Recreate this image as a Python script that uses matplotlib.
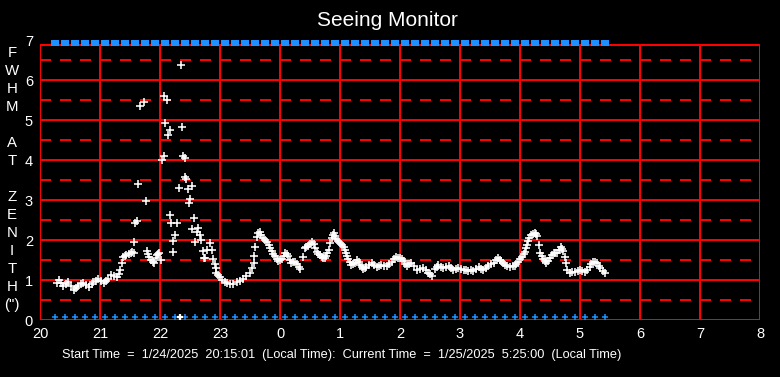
import numpy as np
import matplotlib
matplotlib.use("Agg")
import matplotlib.pyplot as plt

plt.rcParams['font.family'] = ['Liberation Sans', 'DejaVu Sans']
plt.rcParams['lines.scale_dashes'] = False

# --- data (hours since midnight of 1/24, FWHM in arcsec) ---
t_fwhm = [
    20.28, 20.31, 20.35, 20.39, 20.43, 20.47, 20.51, 20.56, 20.60, 20.64,
    20.68, 20.72, 20.77, 20.82, 20.86, 20.89, 20.93, 20.97, 21.02, 21.06,
    21.10, 21.14, 21.19, 21.23, 21.28, 21.31, 21.33, 21.36, 21.39, 21.42,
    21.44, 21.48, 21.51, 21.54, 21.56, 21.57, 21.59, 21.62, 21.64, 21.66,
    21.74, 21.76, 21.78, 21.80, 21.82, 21.85, 21.88, 21.90, 21.93, 21.95,
    21.97, 21.99, 22.01, 22.04, 22.06, 22.07, 22.08, 22.12, 22.14, 22.16,
    22.17, 22.19, 22.21, 22.22, 22.25, 22.29, 22.31, 22.35, 22.37, 22.39,
    22.41, 22.42, 22.44, 22.47, 22.49, 22.50, 22.53, 22.54, 22.57, 22.58,
    22.61, 22.64, 22.67, 22.69, 22.71, 22.73, 22.75, 22.78, 22.83, 22.87,
    22.89, 22.92, 22.93, 22.94, 22.97, 23.00, 23.04, 23.08, 23.12, 23.17,
    23.22, 23.28, 23.33, 23.38, 23.44, 23.50, 23.53, 23.56, 23.57, 23.59,
    23.61, 23.63, 23.66, 23.69, 23.72, 23.75, 23.78, 23.81, 23.84, 23.86,
    23.89, 23.92, 23.95, 23.97, 24.00, 24.03, 24.06, 24.08, 24.11, 24.14,
    24.17, 24.19, 24.22, 24.25, 24.28, 24.31, 24.34, 24.39, 24.42, 24.44,
    24.47, 24.50, 24.53, 24.57, 24.59, 24.61, 24.64, 24.67, 24.70, 24.72,
    24.75, 24.77, 24.79, 24.81, 24.83, 24.86, 24.88, 24.90, 24.92, 24.94,
    24.97, 25.00, 25.03, 25.06, 25.08, 25.10, 25.12, 25.14, 25.17, 25.19,
    25.22, 25.25, 25.29, 25.31, 25.33, 25.36, 25.39, 25.42, 25.44, 25.48,
    25.53, 25.57, 25.61, 25.65, 25.69, 25.73, 25.78, 25.82, 25.86, 25.90,
    25.94, 25.97, 26.00, 26.03, 26.06, 26.08, 26.11, 26.15, 26.19, 26.23,
    26.28, 26.33, 26.39, 26.43, 26.47, 26.50, 26.54, 26.58, 26.61, 26.64,
    26.68, 26.72, 26.76, 26.81, 26.85, 26.89, 26.93, 26.97, 27.01, 27.06,
    27.10, 27.14, 27.18, 27.22, 27.26, 27.31, 27.35, 27.39, 27.43, 27.47,
    27.51, 27.56, 27.60, 27.64, 27.67, 27.69, 27.72, 27.75, 27.79, 27.83,
    27.88, 27.92, 27.94, 27.97, 28.00, 28.03, 28.06, 28.08, 28.10, 28.12,
    28.14, 28.15, 28.18, 28.21, 28.25, 28.27, 28.29, 28.32, 28.34, 28.36,
    28.39, 28.42, 28.44, 28.47, 28.50, 28.53, 28.56, 28.59, 28.62, 28.65,
    28.68, 28.70, 28.72, 28.75, 28.77, 28.79, 28.83, 28.87, 28.92, 28.96,
    29.00, 29.04, 29.08, 29.12, 29.16, 29.19, 29.21, 29.25, 29.28, 29.31,
    29.34, 29.38, 29.42,
]
fwhm = [
    0.92, 1.00, 0.93, 0.85, 0.90, 0.94, 0.85, 0.75, 0.80, 0.85,
    0.90, 0.92, 0.88, 0.83, 0.90, 0.96, 0.98, 1.02, 0.97, 0.92,
    0.97, 1.02, 1.12, 1.10, 1.08, 1.15, 1.25, 1.42, 1.58, 1.60,
    1.62, 1.65, 1.68, 1.70, 1.67, 1.94, 2.42, 2.47, 3.39, 5.35,
    5.44, 2.97, 1.72, 1.65, 1.58, 1.50, 1.45, 1.42, 1.55, 1.62,
    1.65, 1.67, 1.50, 4.00, 4.10, 5.60, 4.92, 5.50, 4.63, 4.75,
    2.63, 2.43, 1.71, 1.98, 2.13, 2.42, 3.29, 6.38, 4.82, 4.10,
    4.04, 3.58, 3.52, 3.27, 2.92, 3.02, 3.35, 2.27, 2.54, 1.96,
    2.21, 2.29, 2.13, 2.00, 1.72, 1.54, 1.54, 1.75, 1.93, 1.75,
    1.52, 1.40, 1.29, 1.17, 1.12, 1.08, 1.00, 0.96, 0.92, 0.89,
    0.90, 0.96, 0.98, 1.03, 1.10, 1.17, 1.29, 1.42, 1.60, 1.83,
    2.08, 2.18, 2.21, 2.12, 2.06, 2.00, 1.94, 1.88, 1.80, 1.73,
    1.66, 1.60, 1.53, 1.48, 1.50, 1.52, 1.60, 1.67, 1.64, 1.60,
    1.50, 1.43, 1.45, 1.46, 1.40, 1.33, 1.27, 1.58, 1.79, 1.82,
    1.85, 1.90, 1.96, 1.90, 1.80, 1.71, 1.66, 1.62, 1.58, 1.54,
    1.56, 1.60, 1.67, 1.75, 1.92, 2.05, 2.12, 2.18, 2.10, 2.02,
    1.97, 1.93, 1.88, 1.83, 1.75, 1.67, 1.60, 1.52, 1.45, 1.38,
    1.40, 1.43, 1.50, 1.44, 1.38, 1.32, 1.27, 1.30, 1.33, 1.38,
    1.42, 1.37, 1.32, 1.35, 1.38, 1.36, 1.35, 1.40, 1.46, 1.52,
    1.57, 1.55, 1.54, 1.52, 1.48, 1.40, 1.35, 1.39, 1.43, 1.35,
    1.25, 1.27, 1.29, 1.24, 1.18, 1.14, 1.10, 1.28, 1.33, 1.38,
    1.33, 1.29, 1.32, 1.35, 1.30, 1.25, 1.27, 1.29, 1.27, 1.25,
    1.24, 1.23, 1.25, 1.23, 1.28, 1.32, 1.28, 1.25, 1.30, 1.35,
    1.39, 1.43, 1.50, 1.54, 1.51, 1.48, 1.43, 1.38, 1.35, 1.33,
    1.34, 1.35, 1.40, 1.46, 1.52, 1.57, 1.64, 1.71, 1.80, 1.88,
    1.97, 2.04, 2.12, 2.15, 2.17, 2.14, 2.10, 1.88, 1.68, 1.60,
    1.52, 1.47, 1.43, 1.48, 1.54, 1.62, 1.68, 1.68, 1.67, 1.74,
    1.82, 1.78, 1.73, 1.58, 1.42, 1.25, 1.18, 1.20, 1.21, 1.23,
    1.25, 1.23, 1.21, 1.26, 1.33, 1.40, 1.46, 1.44, 1.42, 1.36,
    1.29, 1.23, 1.18,
]

# status check every 10 minutes from start to current time
check_times = np.arange(20.25, 29.43, 1 / 6)
status_top = 6.935
status_bottom = 0.07
flagged_time = [22.33]

hour_ticks = list(range(20, 33))
hour_labels = ['20', '21', '22', '23', '0', '1', '2', '3', '4', '5', '6', '7', '8']
y_ticks = list(range(0, 8))
ylabel_chars = list('FWHM AT ZENITH') + ['(")']

red = '#ff0000'
blue = '#1e90ff'
lw = 1.45
frame_top = 6.875
# petit rectangle plat pour les marqueurs du haut
rect_marker = [(-1, -0.6), (1, -0.6), (1, 0.6), (-1, 0.6), (-1, -0.6)]

fig = plt.figure(figsize=(7.8, 3.77), dpi=100, facecolor='black')
ax = fig.add_axes([40 / 780, 57 / 377, 720 / 780, 280 / 377])
ax.set_facecolor('black')
ax.set_xlim(20, 32)
ax.set_ylim(0, 7)
for s in ax.spines.values():
    s.set_visible(False)

# grille rouge
ax.hlines(range(0, 7), 20, 32, color=red, lw=lw, zorder=1)
ax.hlines([frame_top], 20, 32, color=red, lw=lw, zorder=1)
ax.hlines(np.arange(0.5, 7, 1), 20, 32, color=red, lw=lw,
          linestyles=[(0, (11 * 0.72, 9 * 0.72))], zorder=1)
ax.vlines(hour_ticks, 0, frame_top, color=red, lw=lw, zorder=1)

# donnees
ax.plot(t_fwhm, fwhm, ls='none', marker='+', ms=5.4, mew=1.15, color='white', zorder=3)
ax.plot(check_times, [status_bottom] * len(check_times), ls='none', marker='+',
        ms=5, mew=1.1, color=blue, clip_on=False, zorder=3)
ax.plot(flagged_time, [status_bottom], ls='none', marker='+', ms=5, mew=1.6,
        color='white', clip_on=False, zorder=4)
ax.plot(check_times, [status_top] * len(check_times), ls='none', marker=rect_marker,
        ms=6.35, mew=0, color=blue, clip_on=False, zorder=3)

ax.set_xticks(hour_ticks)
ax.set_xticklabels(hour_labels)
ax.set_yticks(y_ticks)
ax.tick_params(colors='white', length=0, labelsize=10.5, pad=5)

fig.text(387 / 780, 1 - 20 / 377, 'Seeing Monitor', color='white', fontsize=15,
         ha='center', va='center')
for i, c in enumerate(ylabel_chars):
    fig.text(12 / 780, 1 - (53 + 18 * i) / 377, c, color='white', fontsize=10.8,
             ha='center', va='center')
fig.text(342 / 780, 1 - 355 / 377,
         'Start Time  =  1/24/2025  20:15:01  (Local Time):  Current Time  =  1/25/2025  5:25:00  (Local Time)',
         color='white', fontsize=9.15, ha='center', va='center')

fig.savefig('out.png', dpi=100, facecolor='black')
